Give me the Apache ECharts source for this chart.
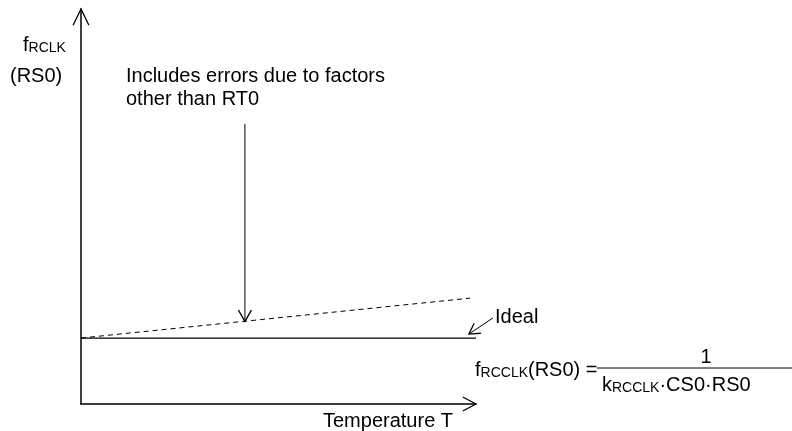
<!DOCTYPE html>
<html>
<head>
<meta charset="utf-8">
<script src="https://cdn.jsdelivr.net/npm/echarts@6/dist/echarts.min.js"></script>
<style>
  html, body { margin: 0; background: #fff; }
  #chart { width: 792px; height: 431px; }
</style>
</head>
<body>
<div id="chart"></div>
<script>
  // both axes in arbitrary units, 0..100
  const tempRange = [0, 100]
  const freqRange = [0, 100]
  // ideal (flat) and real (drifting) oscillator frequency vs temperature
  const idealTemp = [0, 100]
  const idealFreq = [16.7, 16.7]
  const realTemp = [0, 98.5]
  const realFreq = [16.7, 26.8]
  // callout arrows: [temp, freq]
  const noteTail = [41.5, 70.9]
  const noteTip = [41.5, 20.9]
  const idealTail = [104.3, 21.8]
  const idealTip = [98.2, 17.7]

  const FONT = 'Arial, "Liberation Sans", sans-serif'
  const chart = echarts.init(document.getElementById('chart'))

  const hiddenAxis = (range) => ({
    type: 'value',
    min: range[0],
    max: range[1],
    axisLine: { show: true, lineStyle: { color: '#000', width: 1.5 } },
    axisTick: { show: false },
    axisLabel: { show: false },
    splitLine: { show: false }
  })

  chart.setOption({
    animation: false,
    backgroundColor: '#fff',
    grid: { left: 81, top: 9, width: 395, height: 395 },
    xAxis: hiddenAxis(tempRange),
    yAxis: hiddenAxis(freqRange),
    series: [
      {
        name: 'Ideal',
        type: 'line',
        symbol: 'none',
        lineStyle: { color: '#000', width: 1.3 },
        data: idealTemp.map((t, i) => [t, idealFreq[i]])
      },
      {
        name: 'Real',
        type: 'line',
        symbol: 'none',
        lineStyle: { color: '#000', width: 1, type: [5, 4] },
        data: realTemp.map((t, i) => [t, realFreq[i]])
      }
    ]
  })

  const px = (p) => chart.convertToPixel({ gridIndex: 0 }, p)

  // open chevron arrow head at tip, pointing away from "from"
  function head (from, tip, len, spread) {
    const a = Math.atan2(tip[1] - from[1], tip[0] - from[0])
    const s = spread * Math.PI / 180
    return {
      type: 'polyline',
      shape: {
        points: [
          [tip[0] - len * Math.cos(a - s), tip[1] - len * Math.sin(a - s)],
          tip,
          [tip[0] - len * Math.cos(a + s), tip[1] - len * Math.sin(a + s)]
        ]
      },
      style: { stroke: '#000', lineWidth: 1.3, fill: null }
    }
  }

  function line (p1, p2, w) {
    return {
      type: 'line',
      shape: { x1: p1[0], y1: p1[1], x2: p2[0], y2: p2[1] },
      style: { stroke: '#000', lineWidth: w }
    }
  }

  function label (x, y, text, align, rich) {
    return {
      type: 'text',
      x: x,
      y: y,
      style: {
        text: text,
        fontSize: 20,
        fontFamily: FONT,
        fill: '#000',
        textAlign: align || 'left',
        textVerticalAlign: 'middle',
        rich: rich || {}
      }
    }
  }

  const sub = { s: { fontSize: 14, fontFamily: FONT, verticalAlign: 'bottom' } }

  const origin = px([tempRange[0], freqRange[0]])
  const yTop = px([tempRange[0], freqRange[1]])
  const xEnd = px([tempRange[1], freqRange[0]])
  const nTail = px(noteTail)
  const nTip = px(noteTip)
  const iTail = px(idealTail)
  const iTip = px(idealTip)

  chart.setOption({
    graphic: [
      head(origin, yTop, 18, 26),
      head(origin, xEnd, 15, 28),
      line(nTail, nTip, 1),
      head(nTail, nTip, 13, 30),
      line(iTail, iTip, 1),
      head(iTail, iTip, 12, 30),
      label(23, 45, 'f{s|RCLK}', 'left', sub),
      label(10, 76, '(RS0)'),
      label(126, 76, 'Includes errors due to factors'),
      label(126, 99, 'other than RT0'),
      label(495, 317, 'Ideal'),
      label(323, 421, 'Temperature T'),
      label(475, 370, 'f{s|RCCLK}(RS0) =', 'left', sub),
      label(706, 357, '1', 'center'),
      line([597, 368], [792, 368], 1),
      label(602, 385, 'k{s|RCCLK}·CS0·RS0', 'left', sub)
    ]
  })
</script>
</body>
</html>
